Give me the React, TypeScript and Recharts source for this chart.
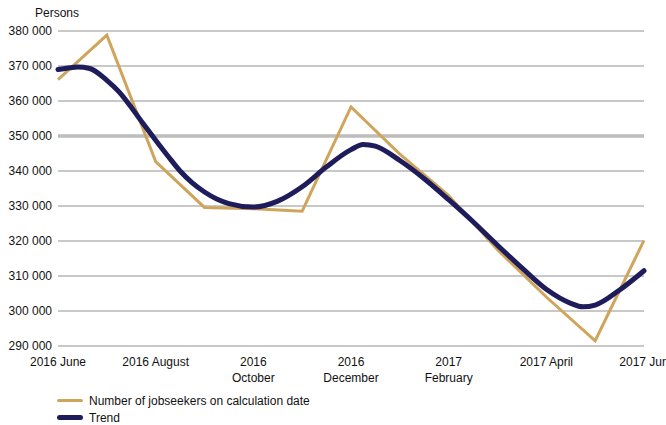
import { CartesianGrid, Line, LineChart, ReferenceLine, XAxis, YAxis } from 'recharts'

const GOLD = '#cfa55b'
const NAVY = '#1f1c5c'
const FONT = '"Liberation Sans", Arial, sans-serif'

// months since 2016 June
const months = [0, 1, 2, 3, 4, 5, 6, 7, 8, 9, 10, 11, 12]
const jobseekers = [366100, 378800, 342700, 329600, 329200, 328500, 358300, 344800, 333000, 317500, 304000, 291500, 320200]

const trendTimes = [0, 0.25, 0.4, 0.65, 1, 1.25, 1.5, 1.75, 2, 2.25, 2.5, 2.75, 3, 3.25, 3.5, 4, 4.5, 5, 5.5, 6, 6.25, 6.5, 7, 7.5, 8, 8.5, 9, 9.5, 10, 10.5, 10.75, 11, 11.5, 12]
const trend = [369000, 369500, 369700, 369300, 365900, 362600, 358200, 353400, 348800, 344300, 340000, 336600, 334000, 332000, 330700, 329700, 331400, 335500, 341200, 346100, 347600, 347100, 343000, 337800, 331800, 325500, 318800, 312300, 306200, 302200, 301200, 301700, 306000, 311500]

const xTicks = [0, 2, 4, 6, 8, 10, 12]
const xLabels: Record<number, string[]> = {
  0: ['2016 June'],
  2: ['2016 August'],
  4: ['2016', 'October'],
  6: ['2016', 'December'],
  8: ['2017', 'February'],
  10: ['2017 April'],
  12: ['2017 Jun'],
}
const yTicks = [290000, 300000, 310000, 320000, 330000, 340000, 350000, 360000, 370000, 380000]

const legendItems = [
  { label: 'Number of jobseekers on calculation date', color: GOLD, width: 3 },
  { label: 'Trend', color: NAVY, width: 5 },
]

// merge both series onto one numeric time axis
const times = Array.from(new Set([...months, ...trendTimes])).sort((a, b) => a - b)
const data = times.map((t) => {
  const mi = months.indexOf(t)
  const ti = trendTimes.indexOf(t)
  return {
    t,
    jobseekers: mi >= 0 ? jobseekers[mi] : null,
    trend: ti >= 0 ? trend[ti] : null,
  }
})

const fmt = (v: number) => String(v).replace(/\B(?=(\d{3})+(?!\d))/g, ' ')

function XTick({ x, y, payload }: any) {
  const lines = xLabels[payload.value] || []
  return (
    <g>
      {lines.map((l, i) => (
        <text key={i} x={x} y={y + 12 + i * 16} textAnchor="middle" fontSize={12} fill="#111" fontFamily={FONT}>
          {l}
        </text>
      ))}
    </g>
  )
}

function YTick({ y, payload }: any) {
  return (
    <text x={52} y={y + 4} textAnchor="end" fontSize={12} fill="#111" fontFamily={FONT}>
      {fmt(payload.value)}
    </text>
  )
}

export default function App() {
  return (
    <div style={{ position: 'absolute', left: 0, top: 0, width: 666, height: 425, background: '#fff', overflow: 'hidden' }}>
      <LineChart width={666} height={425} data={data} margin={{ top: 31, right: 22, bottom: 49, left: 0 }}>
        <text x={35} y={17} fontSize={12} fill="#111" fontFamily={FONT}>
          Persons
        </text>
        <CartesianGrid vertical={false} stroke="#c8c8c8" strokeWidth={2} />
        <ReferenceLine y={350000} stroke="#bdbdbd" strokeWidth={3.5} />
        <XAxis
          dataKey="t"
          type="number"
          domain={[0, 12]}
          ticks={xTicks}
          interval={0}
          height={30}
          axisLine={false}
          tickLine={false}
          tick={<XTick />}
        />
        <YAxis
          width={58}
          domain={[290000, 380000]}
          ticks={yTicks}
          interval={0}
          axisLine={false}
          tickLine={false}
          tick={<YTick />}
        />
        <Line
          dataKey="jobseekers"
          type="linear"
          stroke={GOLD}
          strokeWidth={3}
          dot={false}
          connectNulls
          isAnimationActive={false}
        />
        <Line
          dataKey="trend"
          type="monotone"
          stroke={NAVY}
          strokeWidth={5}
          dot={false}
          connectNulls
          strokeLinecap="round"
          isAnimationActive={false}
        />
      </LineChart>
      <div style={{ position: 'absolute', left: 57, top: 392, fontFamily: FONT, fontSize: 12, color: '#111' }}>
        {legendItems.map((it) => (
          <div key={it.label} style={{ display: 'flex', alignItems: 'center', height: 17 }}>
            <div style={{ width: 26, height: it.width, background: it.color, borderRadius: 3, marginRight: 6 }} />
            <span>{it.label}</span>
          </div>
        ))}
      </div>
    </div>
  )
}
